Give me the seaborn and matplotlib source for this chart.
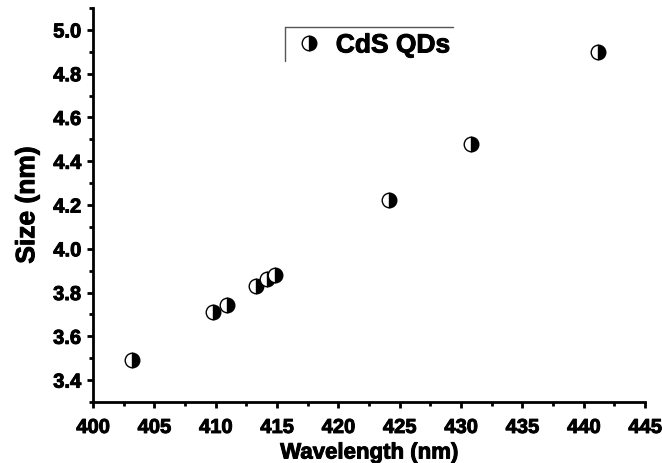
import numpy as np
import pandas as pd
import matplotlib
matplotlib.use('Agg')
import matplotlib.pyplot as plt
import matplotlib.patheffects as pe
import seaborn as sns
from matplotlib.ticker import MultipleLocator, FormatStrFormatter
from matplotlib.lines import Line2D

# 数据
wavelength = [403.2, 409.8, 410.9, 413.3, 414.2, 414.8, 424.1, 430.8, 441.2]
size_nm = [3.49, 3.71, 3.745, 3.83, 3.86, 3.88, 4.225, 4.48, 4.90]
series_name = 'CdS QDs'

df = pd.DataFrame({'Wavelength': wavelength, 'Size': size_nm})

sns.set_style('ticks')
plt.rcParams['font.family'] = ['Liberation Sans', 'DejaVu Sans']
plt.rcParams['font.weight'] = 'bold'
for k in ['text.color', 'axes.labelcolor', 'xtick.color', 'ytick.color', 'axes.edgecolor']:
    plt.rcParams[k] = 'black'

fig = plt.figure(figsize=(6.62, 4.64), dpi=100)
ax = fig.add_axes([0.1405, 0.1315, 0.834, 0.849])

mk = dict(marker='o', markersize=10.5, fillstyle='right', markerfacecolor='black',
          markerfacecoloralt='white', markeredgecolor='black', markeredgewidth=1.0)
sns.lineplot(data=df, x='Wavelength', y='Size', ax=ax, linestyle='', color='black',
             legend=False, **mk)

ax.set_xlim(400, 445)
ax.set_ylim(3.3, 5.1)
ax.xaxis.set_major_locator(MultipleLocator(5))
ax.xaxis.set_minor_locator(MultipleLocator(2.5))
ax.yaxis.set_major_locator(MultipleLocator(0.2))
ax.yaxis.set_minor_locator(MultipleLocator(0.1))
ax.yaxis.set_major_formatter(FormatStrFormatter('%.1f'))

for s in ['top', 'right']:
    ax.spines[s].set_visible(False)
for s in ['left', 'bottom']:
    ax.spines[s].set_linewidth(2)
ax.tick_params(which='major', direction='out', length=4.5, width=2, labelsize=14.5, pad=4)
ax.tick_params(which='minor', direction='out', length=3, width=2)
ax.tick_params(axis='x', which='major', pad=7)

# 加粗描边，模拟原图较粗的字体
heavy = [pe.withStroke(linewidth=0.7, foreground='black')]
for lab in ax.get_xticklabels() + ax.get_yticklabels():
    lab.set_fontweight('bold')
    lab.set_path_effects(heavy)

ax.set_xlabel('Wavelength (nm)', fontsize=16, fontweight='bold', labelpad=4, path_effects=heavy)
ax.set_ylabel('Size (nm)', fontsize=19, fontweight='bold', labelpad=10, path_effects=heavy)

handle = Line2D([], [], linestyle='', **mk)
leg = ax.legend([handle], [series_name], loc='center left', bbox_to_anchor=(0.325, 0.905),
                frameon=False, prop={'size': 19, 'weight': 'bold'},
                handletextpad=0.5, handlelength=1.0)
for t in leg.get_texts():
    t.set_path_effects(heavy)
# 图例只有上边和左边框线
ax.plot([0.348, 0.652], [0.953, 0.953], transform=ax.transAxes, color='#555555', lw=1, clip_on=False)
ax.plot([0.348, 0.348], [0.953, 0.866], transform=ax.transAxes, color='#555555', lw=1, clip_on=False)

fig.savefig('out.png', dpi=100)
